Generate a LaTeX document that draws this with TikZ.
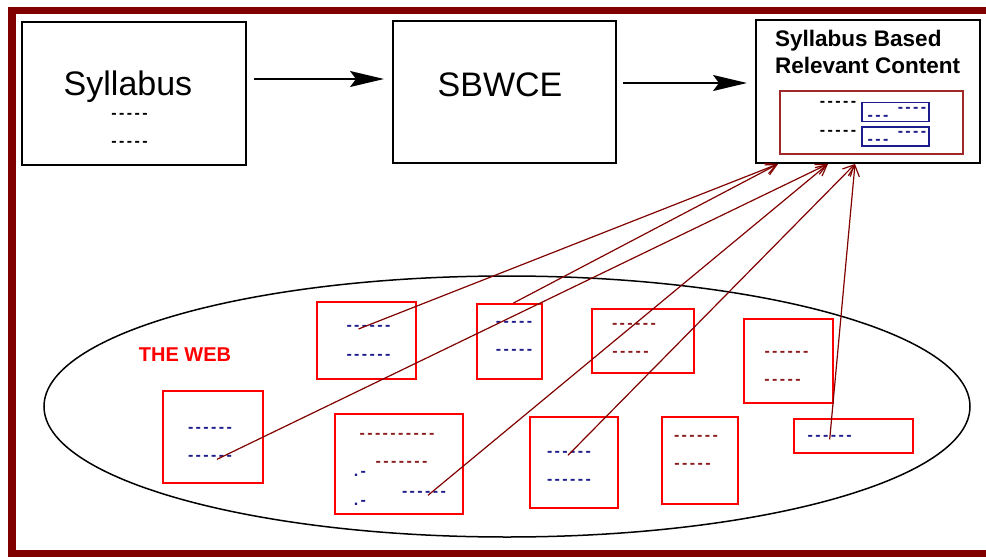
\documentclass[tikz,border=0pt]{standalone}
\usepackage{fontspec}
\setmainfont{Liberation Sans}
\newfontfamily\dashfont{Liberation Sans}[Ligatures=TeXOff,LetterSpace=15]
\usetikzlibrary{arrows.meta,shapes.geometric}
\definecolor{framered}{HTML}{800000}
\definecolor{linkred}{HTML}{800000}
\definecolor{innerred}{HTML}{A02828}
\definecolor{dashred}{HTML}{8B1A1A}
\definecolor{dashblue}{HTML}{1C1C8C}
\begin{document}
\begin{tikzpicture}[x=1pt,y=1pt]
                \tikzstyle{every node}+=[inner sep=0pt]
                \tikzstyle{mainbox}=[draw=black,line width=2pt,minimum width=224pt,minimum height=143pt]
                \tikzstyle{webbox}=[draw=red,line width=2pt]
                \tikzstyle{bluebox}=[draw=dashblue,line width=1.5pt,minimum width=67pt,minimum height=19pt]
                \tikzstyle{dashes}=[font=\dashfont\bfseries\fontsize{16}{16}\selectfont]
                \tikzstyle{bluedash}=[dashes,text=dashblue]
                \tikzstyle{reddash}=[dashes,text=dashred]
                \tikzstyle{bigtext}=[anchor=base,font=\fontsize{34}{40}\selectfont]
                \tikzstyle{flow}=[draw=black,line width=1.5pt,-{Stealth[length=34pt,width=16pt,inset=6pt]}]
                \tikzstyle{link}=[draw=linkred,line width=1.2pt,-{Straight Barb[length=11pt,width=11pt]}]
                \useasboundingbox (0,0) rectangle (986,-557);
                \draw [framered,line width=7.5pt] (986,-10.5) -- (12,-10.5) -- (12,-553.5) -- (986,-553.5);
                \node [mainbox] (syl) at (134,-93.5) {};
                \node [bigtext] (syltxt) at (128,-95) {Syllabus};
                \node [dashes] (syla) at (129.5,-116) {-----};
                \node [dashes] (sylb) at (129.5,-144) {-----};
                \node [mainbox,minimum width=223pt,minimum height=142pt] (sbw) at (504.5,-92) {};
                \node [bigtext] (sbwtxt) at (500,-96) {SBWCE};
                \node [mainbox] (rel) at (868,-91.5) {};
                \node [anchor=base west,font=\bfseries\fontsize{22.5}{26}\selectfont] (relta) at (775,-46) {Syllabus Based};
                \node [anchor=base west,font=\bfseries\fontsize{22.5}{26}\selectfont] (reltb) at (775,-73) {Relevant Content};
                \node [draw=innerred,line width=1.5pt,minimum width=183pt,minimum height=63pt] (relin) at (871.5,-122.5) {};
                \node [dashes] (rela) at (838,-104.3) {-----};
                \node [dashes] (relb) at (838,-132.7) {-----};
                \node [bluebox] (relbox1) at (895.5,-112) {};
                \node [bluebox] (relbox2) at (895.5,-136.3) {};
                \node [bluedash] (relc) at (912,-110) {----};
                \node [bluedash] (reld) at (878,-117.7) {---};
                \node [bluedash] (rele) at (912,-133.7) {----};
                \node [bluedash] (relf) at (878,-142) {---};
                \draw [flow] ([shift={(7pt,14.5pt)}]syl.east) -- ([shift={(-8pt,13pt)}]sbw.west);
                \draw [flow] ([shift={(6pt,9pt)}]sbw.east) -- ([shift={(-8pt,8.5pt)}]rel.west);
                \node [draw=black,line width=1.5pt,ellipse,minimum width=926pt,minimum height=261pt] (web) at (507,-406.5) {};
                \node [anchor=base,text=red,font=\bfseries\fontsize{20}{24}\selectfont] (webtxt) at (185,-361) {THE WEB};
                \node [webbox,minimum width=99pt,minimum height=77pt] (page1) at (366.5,-340.5) {};
                \node [bluedash] (p1a) at (368.5,-328) {------};
                \node [bluedash] (p1b) at (368.5,-357) {------};
                \node [webbox,minimum width=65pt,minimum height=75pt] (page2) at (509.5,-341.5) {};
                \node [bluedash] (p2a) at (514,-324) {-----};
                \node [bluedash] (p2b) at (514,-352) {-----};
                \node [webbox,minimum width=102pt,minimum height=64pt] (page3) at (643,-341) {};
                \node [reddash] (p3a) at (634,-326) {------};
                \node [reddash] (p3b) at (630.5,-354) {-----};
                \node [webbox,minimum width=89pt,minimum height=84pt] (page4) at (788.5,-361) {};
                \node [reddash] (p4a) at (786.5,-353.7) {------};
                \node [reddash] (p4b) at (782.5,-381.7) {-----};
                \node [webbox,minimum width=100pt,minimum height=92pt] (page5) at (213,-437) {};
                \node [bluedash] (p5a) at (210,-430.3) {------};
                \node [bluedash] (p5b) at (210,-458.3) {------};
                \node [webbox,minimum width=128pt,minimum height=100pt] (page6) at (399,-464) {};
                \node [reddash] (p6a) at (397,-436.3) {----------};
                \node [reddash] (p6b) at (401.5,-464.3) {-------};
                \node [bluedash] (p6c) at (424,-494.3) {------};
                \node [bluedash] (p6d) at (360,-474.3) {.-};
                \node [bluedash] (p6e) at (360,-502.7) {.-};
                \node [webbox,minimum width=88pt,minimum height=91pt] (page7) at (574,-462.5) {};
                \node [bluedash] (p7a) at (569,-454.3) {------};
                \node [bluedash] (p7b) at (569,-482.3) {------};
                \node [webbox,minimum width=76pt,minimum height=87pt] (page8) at (700,-460.5) {};
                \node [reddash] (p8a) at (696,-438.3) {------};
                \node [reddash] (p8b) at (692.5,-466.3) {-----};
                \node [webbox,minimum width=119pt,minimum height=34pt] (page9) at (853.5,-436) {};
                \node [bluedash] (p9a) at (829.7,-438.3) {------};
                \draw [link] ([xshift=-10pt,yshift=-1pt]p1a.center) -- ([xshift=-90pt]rel.south);
                \draw [link] ([xshift=4pt]page2.north) -- ([xshift=-90pt]rel.south);
                \draw [link] ([xshift=7pt,yshift=-1pt]p5b.center) -- ([xshift=-40pt]rel.south);
                \draw [link] ([xshift=4pt,yshift=-1pt]p6c.center) -- ([xshift=-40pt]rel.south);
                \draw [link] ([xshift=-1pt,yshift=-1pt]p7a.center) -- ([xshift=-13pt]rel.south);
                \draw [link] ([yshift=-1pt]p9a.center) -- ([xshift=-13pt]rel.south);
            \end{tikzpicture}
\end{document}
